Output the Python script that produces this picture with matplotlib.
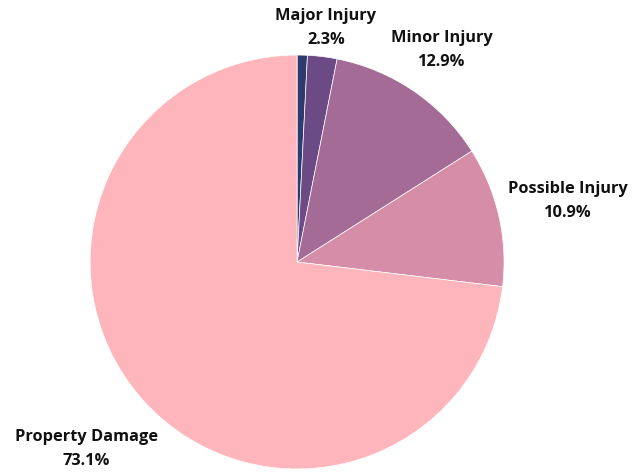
import numpy as np
import matplotlib.pyplot as plt

# crash severity shares (%), clockwise from 12 o'clock
categories = ["Fatal", "Major Injury", "Minor Injury", "Possible Injury", "Property Damage"]
shares = [0.8, 2.3, 12.9, 10.9, 73.1]
show_label = [False, True, True, True, True]
colors = ["#2d3b6e", "#6c4a86", "#a36b95", "#d68ea8", "#ffb5bc"]

# label distance from centre (in radii), per slice
label_dist = [1.1, 1.14, 1.24, 1.34, 1.36]

fig = plt.figure(figsize=(6.43, 4.72), dpi=100)
ax = fig.add_axes([0.14, 0.0064, 0.644, 0.877])

wedges, _ = ax.pie(shares, colors=colors, startangle=90, counterclock=False,
                   wedgeprops=dict(edgecolor="white", linewidth=0.5))
ax.set_xlim(-1, 1)
ax.set_ylim(-1, 1)
ax.set_aspect("equal")
ax.axis("off")

for w, name, val, show, d in zip(wedges, categories, shares, show_label, label_dist):
    if not show:
        continue
    ang = np.deg2rad((w.theta1 + w.theta2) / 2)
    ax.text(d * np.cos(ang), d * np.sin(ang), f"{name}\n{val:.1f}%",
            ha="center", va="center", fontsize=11.8, fontweight="bold",
            family="Open Sans", color="#111111", linespacing=1.65,
            clip_on=False)

fig.savefig("out.png", dpi=100)
